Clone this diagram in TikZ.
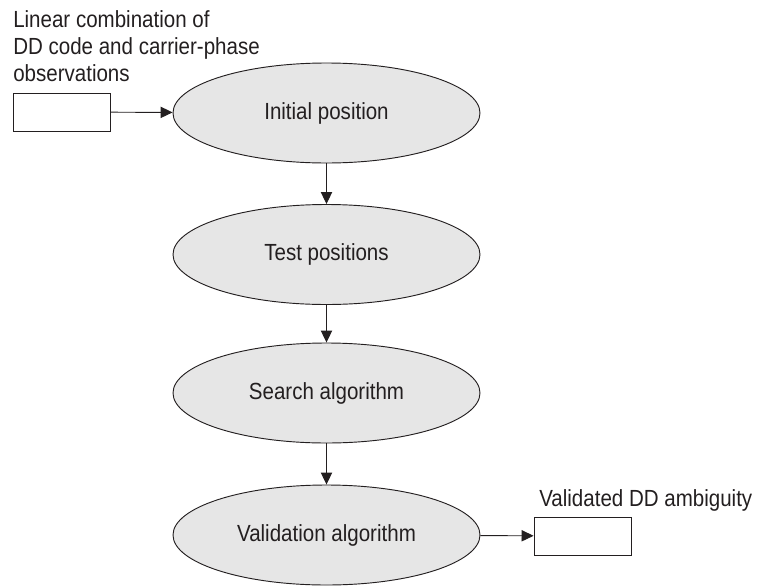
\documentclass[tikz,border=0pt]{standalone}
\usepackage{fontspec}
\setmainfont{Liberation Sans}[FakeStretch=0.88]
\usetikzlibrary{shapes.geometric,arrows.meta}

\definecolor{stepgray}{RGB}{230,230,230}
\definecolor{inkgray}{RGB}{35,31,32}

\begin{document}
\begin{tikzpicture}[x=0.75pt, y=-0.75pt,
		every node/.style={text=inkgray, font=\fontsize{17.5}{19.9}\selectfont},
		stepnode/.style={ellipse, draw=inkgray, fill=stepgray, line width=0.7pt, minimum width=230.25pt, minimum height=75pt, inner sep=0pt},
		databox/.style={rectangle, draw=inkgray, fill=white, line width=0.7pt, minimum width=72.75pt, minimum height=28.5pt, inner sep=0pt},
		flow/.style={draw=inkgray, line width=0.7pt, -{Triangle[length=9pt, width=8.5pt]}}]
			\useasboundingbox (0,0) rectangle (757,586);

			% label of the input
			\draw (13,81) node (inlabel) [anchor=base west, align=left, inner sep=0pt] {Linear combination of\\DD code and carrier-phase\\observations};
			\draw (61.5,112) node (inbox) [databox] {};

			% the four steps
			\draw (326.5,113) node (init) [stepnode] {Initial position};
			\draw (326.5,254.5) node (test) [stepnode] {Test positions};
			\draw (326.5,393) node (search) [stepnode] {Search algorithm};
			\draw (326.5,535) node (valid) [stepnode] {Validation algorithm};

			% output
			\draw (539,506) node (outlabel) [anchor=base west, inner sep=0pt] {Validated DD ambiguity};
			\draw (582.5,536) node (outbox) [databox] {};

			\draw[flow] (inbox) -- (init);
			\draw[flow] (init) -- (test);
			\draw[flow] (test) -- (search);
			\draw[flow] (search) -- (valid);
			\draw[flow] (valid) -- (outbox);

		\end{tikzpicture}
\end{document}
